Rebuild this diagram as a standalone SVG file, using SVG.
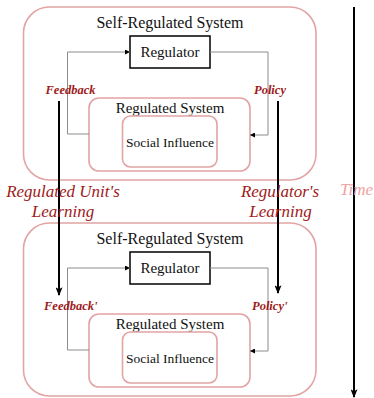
<svg xmlns="http://www.w3.org/2000/svg" width="374" height="398" viewBox="0 0 374 398">
  <style>
    .outer { fill: none; stroke: #e2a4a4; stroke-width: 1.6; }
    .inner { fill: none; stroke: #e2a4a4; stroke-width: 1.6; }
    .reg { fill: #ffffff; stroke: #000000; stroke-width: 1.5; }
    text { font-family: 'Liberation Serif', 'DejaVu Serif', serif; }
    .title { fill: #111111; text-anchor: middle; }
    .loop { fill: none; stroke: #8c8c8c; stroke-width: 1; }
    .flow { font-style: italic; font-weight: bold; font-size: 12.5px; fill: #9e1a1a; }
    .learn { font-style: italic; font-size: 17px; fill: #9e1a1a; text-anchor: middle; }
    .time { font-style: italic; font-size: 17px; fill: #eda3a3; }
    .bold-arrow { fill: none; stroke: #000000; stroke-width: 2; }
  </style>
  <defs>
    <marker id="small-head" viewBox="0 0 6 6" refX="6" refY="3" markerWidth="5" markerHeight="5" markerUnits="userSpaceOnUse" orient="auto">
      <path d="M0,0 L6,3 L0,6 Z" fill="#000000"/>
    </marker>
    <marker id="big-head" viewBox="0 0 10 8" refX="9" refY="4" markerWidth="9" markerHeight="7" markerUnits="userSpaceOnUse" orient="auto">
      <path d="M0,0 L10,4 L0,8 L2.5,4 Z" fill="#000000"/>
    </marker>
  </defs>

  <!-- system at time t -->
  <g id="system-t">
    <rect class="outer" x="23.5" y="7" width="292.5" height="173" rx="26"/>
    <text class="title" x="170" y="28" font-size="16">Self-Regulated System</text>
  </g>
  <g id="regulator-t">
    <rect class="reg" x="130" y="36" width="80" height="32"/>
    <text class="title" x="170" y="57" font-size="15">Regulator</text>
  </g>
  <g id="regulated-t">
    <rect class="inner" x="89" y="98" width="161" height="73" rx="10"/>
    <text class="title" x="170" y="112.5" font-size="15">Regulated System</text>
  </g>
  <g id="social-t">
    <rect class="inner" x="122.5" y="116" width="94.5" height="51" rx="8"/>
    <text class="title" x="170" y="146.5" font-size="13.5">Social Influence</text>
  </g>

  <!-- system at time t+1 -->
  <g id="system-t1">
    <rect class="outer" x="23.5" y="223" width="292.5" height="173" rx="26"/>
    <text class="title" x="170" y="244" font-size="16">Self-Regulated System</text>
  </g>
  <g id="regulator-t1">
    <rect class="reg" x="130" y="252" width="80" height="32"/>
    <text class="title" x="170" y="273" font-size="15">Regulator</text>
  </g>
  <g id="regulated-t1">
    <rect class="inner" x="89" y="314" width="161" height="73" rx="10"/>
    <text class="title" x="170" y="328.5" font-size="15">Regulated System</text>
  </g>
  <g id="social-t1">
    <rect class="inner" x="122.5" y="332" width="94.5" height="51" rx="8"/>
    <text class="title" x="170" y="362.5" font-size="13.5">Social Influence</text>
  </g>

  <!-- feedback / policy loops and learning arrows -->
  <g id="connectors">
    <path class="loop" d="M89,134 H67.5 V52 H130" marker-end="url(#small-head)"/>
    <path class="loop" d="M210,52 H268 V135 H250" marker-end="url(#small-head)"/>
    <path class="loop" d="M89,350 H67.5 V268 H130" marker-end="url(#small-head)"/>
    <path class="loop" d="M210,268 H268 V351 H250" marker-end="url(#small-head)"/>

    <path class="bold-arrow" d="M59,101 V295" marker-end="url(#big-head)"/>
    <path class="bold-arrow" d="M278,101 V293" marker-end="url(#big-head)"/>
    <path class="bold-arrow" d="M354,7 V397" marker-end="url(#big-head)"/>
  </g>

  <!-- labels -->
  <g id="labels">
    <text class="flow" x="45.5" y="94">Feedback</text>
    <text class="flow" x="254" y="94">Policy</text>
    <text class="flow" x="44" y="310">Feedback'</text>
    <text class="flow" x="252" y="310">Policy'</text>

    <text class="learn" x="63" y="197">Regulated Unit's</text>
    <text class="learn" x="63" y="217">Learning</text>
    <text class="learn" x="280" y="197">Regulator's</text>
    <text class="learn" x="280.5" y="217">Learning</text>
    <text class="time" x="340" y="195">Time</text>
  </g>
</svg>
